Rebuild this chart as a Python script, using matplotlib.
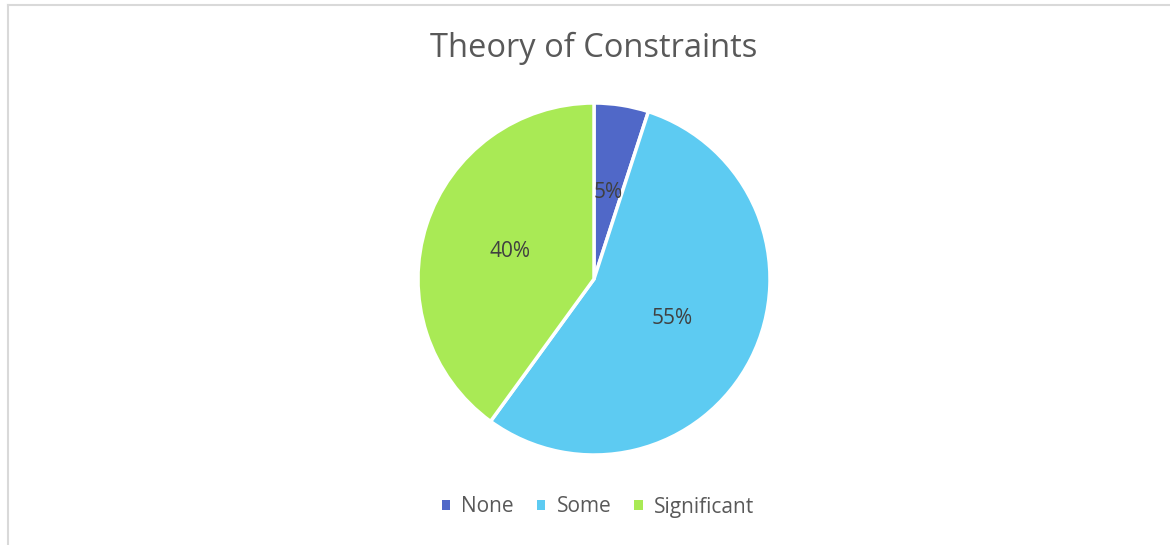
import matplotlib
matplotlib.use("Agg")
import matplotlib.pyplot as plt
from matplotlib.patches import Patch
from matplotlib.lines import Line2D

categories = ["None", "Some", "Significant"]
values = [5, 55, 40]
colors = ["#5068C8", "#5DCBF2", "#A9EA55"]
title = "Theory of Constraints"

W, H = 1170, 545
fig = plt.figure(figsize=(W / 100, H / 100), dpi=100)
plt.rcParams['font.family'] = ['Open Sans', 'DejaVu Sans']

# border lines (left & top only, as in the cropped screenshot)
fig.add_artist(Line2D([7.5 / W, 7.5 / W], [0, 1 - 4.5 / H], color="#d9d9d9", lw=1.5, transform=fig.transFigure))
fig.add_artist(Line2D([7.5 / W, 1], [1 - 4.5 / H, 1 - 4.5 / H], color="#d9d9d9", lw=1.5, transform=fig.transFigure))

cx, cy, r = 594, 279, 176
ax = fig.add_axes([(cx - r) / W, (H - cy - r) / H, 2 * r / W, 2 * r / H])
wedges, texts, autotexts = ax.pie(
    values, colors=colors, startangle=90, counterclock=False,
    autopct=lambda p: f"{p:.0f}%", pctdistance=0.5, radius=1,
    wedgeprops=dict(edgecolor="white", linewidth=2.5),
    textprops=dict(color="#404040", fontsize=15))
ax.set_xlim(-1.0, 1.0)
ax.set_ylim(-1.0, 1.0)
ax.set_aspect("equal")
ax.axis("off")

fig.text(cx / W, 1 - 48 / H, title, ha="center", va="center", fontsize=23.5, color="#595959")

handles = [Patch(facecolor=c, edgecolor="none") for c in colors]
fig.legend(handles, categories, loc="center", bbox_to_anchor=(598 / W, 1 - 507 / H),
           ncol=3, frameon=False, fontsize=15, handlelength=0.4, handleheight=0.4,
           handletextpad=0.55, columnspacing=1.1, labelcolor="#595959")

fig.savefig("out.png", dpi=100)
